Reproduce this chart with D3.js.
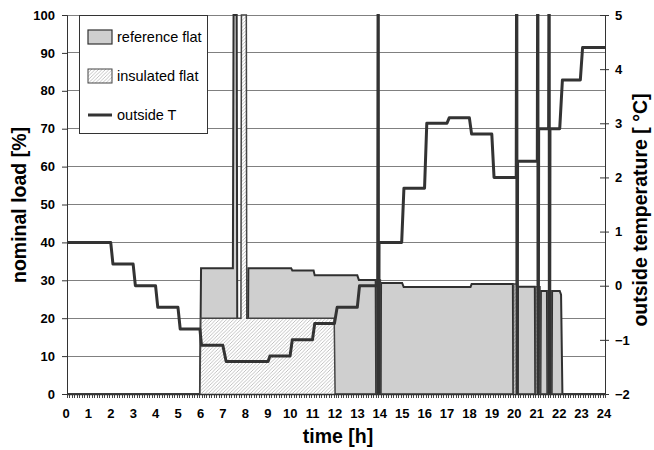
<!DOCTYPE html>
<html>
<head>
<meta charset="utf-8">
<script src="https://cdn.jsdelivr.net/npm/d3@7"></script>
<style>
  html, body { margin: 0; padding: 0; background: #fff; }
  svg { display: block; font-family: "Liberation Sans", Arial, Helvetica, sans-serif; }
</style>
</head>
<body>
<svg id="chart" width="654" height="450"></svg>
<script>
// ---- data -------------------------------------------------------------
const hourLabels = ["0","1","2","3","4","5","6","7","8","9","10","11","12",
                    "13","14","15","16","17","18","19","20","21","22","23","24"];
const loadTicks = [0, 10, 20, 30, 40, 50, 60, 70, 80, 90, 100];
const tempTicks = [-2, -1, 0, 1, 2, 3, 4, 5];
const seriesNames = ["reference flat", "insulated flat", "outside T"];

// nominal load of the reference flat, [hour, %]
const referenceFlat = [
  [0, 0], [5.93, 0], [5.98, 33.2], [7.40, 33.2], [7.43, 100], [7.57, 100], [7.60, 0],
  [8.06, 0], [8.09, 33.2], [10.0, 33.2], [10.05, 32.6], [11.0, 32.6], [11.05, 31.3],
  [12.95, 31.3], [13.02, 30.1], [13.77, 30.1], [13.79, 0], [13.99, 0], [14.01, 29.3],
  [14.95, 29.3], [15.02, 28.2], [18.0, 28.2], [18.05, 29.0], [19.89, 29.0],
  [19.91, 0], [20.10, 0], [20.12, 28.3], [20.87, 28.3], [20.89, 0], [21.12, 0],
  [21.14, 27.2], [21.41, 27.2], [21.43, 0], [21.62, 0], [21.64, 27.2],
  [21.98, 27.2], [22.04, 26.2], [22.10, 0], [24, 0]
];

// nominal load of the insulated flat, [hour, %]
const insulatedFlat = [
  [0, 0], [5.93, 0], [5.97, 20], [7.76, 20], [7.78, 100], [8.0, 100], [8.02, 20],
  [11.92, 20], [11.96, 0], [13.80, 0], [13.81, 30.1], [13.98, 30.1], [13.99, 0],
  [19.92, 0], [19.93, 29.0], [20.09, 29.0], [20.10, 0],
  [20.90, 0], [20.91, 28.3], [21.10, 28.3], [21.11, 0],
  [21.44, 0], [21.45, 27.2], [21.60, 27.2], [21.61, 0], [24, 0]
];

// outside temperature, [hour, °C]; readings beyond the axis range are sensor dropouts
const outsideT = [
  [0, 0.8], [1.95, 0.8], [2.05, 0.4], [2.95, 0.4], [3.05, 0.0], [3.95, 0.0],
  [4.05, -0.4], [4.95, -0.4], [5.05, -0.8], [5.93, -0.8], [6.0, -1.1], [6.95, -1.1],
  [7.1, -1.4], [8.97, -1.4], [9.05, -1.3], [9.95, -1.3], [10.05, -1.0], [10.95, -1.0],
  [11.05, -0.7], [11.93, -0.7], [12.05, -0.4], [12.95, -0.4], [13.05, 0.0],
  [13.86, 0.0], [13.885, 8], [13.895, -5], [13.92, 0.8], [14.93, 0.8], [15.03, 1.8],
  [15.95, 1.8], [16.05, 3.0], [16.95, 3.0], [17.05, 3.1], [17.95, 3.1], [18.05, 2.8],
  [18.95, 2.8], [19.05, 2.0], [20.04, 2.0], [20.065, 8], [20.075, -5], [20.1, 2.3],
  [20.98, 2.3], [21.005, 8], [21.015, -5], [21.04, 2.9], [21.485, 2.9], [21.51, 8],
  [21.52, -5], [21.545, 2.9], [21.98, 2.9], [22.1, 3.8], [22.9, 3.8], [23.0, 4.4], [24, 4.4]
];

// ---- layout -----------------------------------------------------------
const svg = d3.select("#chart");
const plotL = 67, plotR = 605, plotT = 15, plotB = 394;

const x = d3.scaleLinear().domain([0, 24]).range([plotL, plotR]);
const yLoad = d3.scaleLinear().domain([0, 100]).range([plotB, plotT]);
const yTemp = d3.scaleLinear().domain([-2, 5]).range([plotB, plotT]);

const defs = svg.append("defs");
defs.append("clipPath").attr("id", "plotClip")
  .append("rect").attr("x", plotL).attr("y", plotT - 1)
  .attr("width", plotR - plotL).attr("height", plotB - plotT + 1);

const hatch = defs.append("pattern").attr("id", "hatch")
  .attr("patternUnits", "userSpaceOnUse").attr("width", 3.5).attr("height", 3.5);
hatch.append("rect").attr("width", 3.5).attr("height", 3.5).attr("fill", "#fff");
hatch.append("path").attr("d", "M-1,1 L1,-1 M0,3.5 L3.5,0 M2.5,4.5 L4.5,2.5")
  .attr("stroke", "#a8a8a8").attr("stroke-width", 0.7);

// horizontal grid lines on the load scale
svg.append("g").selectAll("line").data(loadTicks.filter(d => d > 0)).join("line")
  .attr("x1", plotL).attr("x2", plotR)
  .attr("y1", d => yLoad(d)).attr("y2", d => yLoad(d))
  .attr("stroke", "#808080").attr("stroke-width", 1).attr("shape-rendering", "crispEdges");

const plot = svg.append("g").attr("clip-path", "url(#plotClip)");

const loadArea = d3.area().x(d => x(d[0])).y0(yLoad(0)).y1(d => yLoad(d[1]));
const loadLine = d3.line().x(d => x(d[0])).y(d => yLoad(d[1]));

plot.append("path").datum(referenceFlat)
  .attr("d", loadArea).attr("fill", "#cfcfcf");
plot.append("path").datum(referenceFlat)
  .attr("d", loadLine).attr("fill", "none").attr("stroke", "#303030").attr("stroke-width", 2);

plot.append("path").datum(insulatedFlat)
  .attr("d", loadArea).attr("fill", "url(#hatch)");
plot.append("path").datum(insulatedFlat)
  .attr("d", loadLine).attr("fill", "none").attr("stroke", "#444").attr("stroke-width", 1.5);

const tempLine = d3.line().x(d => x(d[0])).y(d => yTemp(d[1]));
plot.append("path").datum(outsideT)
  .attr("d", tempLine).attr("fill", "none")
  .attr("stroke", "#333").attr("stroke-width", 3).attr("stroke-linejoin", "round");

// ---- axes -------------------------------------------------------------
const tickFont = g => g.selectAll("text")
  .attr("font-size", 13).attr("font-weight", "bold").attr("fill", "#000")
  .attr("font-family", "'Liberation Sans', Arial, sans-serif");

const axL = svg.append("g").attr("transform", `translate(${plotL},0)`)
  .call(d3.axisLeft(yLoad).tickValues(loadTicks).tickSize(5).tickPadding(7));
axL.call(tickFont);
axL.select(".domain").attr("stroke", "#333");
axL.selectAll(".tick line").attr("stroke", "#333");

const axR = svg.append("g").attr("transform", `translate(${plotR},0)`)
  .call(d3.axisRight(yTemp).tickValues(tempTicks).tickSize(4).tickPadding(6)
        .tickFormat(d3.format("d")));
axR.call(tickFont);
axR.select(".domain").attr("stroke", "#333");
axR.selectAll(".tick line").attr("stroke", "#333").attr("x1", -5);

// bottom axis: dense minor ticks plus hour labels
const minorTicks = d3.range(0, 24 * 9 + 1).map(i => i / 9);
const axB = svg.append("g");
axB.selectAll("line.minor").data(minorTicks).join("line").attr("class", "minor")
  .attr("x1", d => Math.round(x(d)) + 0.5).attr("x2", d => Math.round(x(d)) + 0.5)
  .attr("y1", plotB).attr("y2", plotB + 4)
  .attr("stroke", "#444").attr("stroke-width", 1);
axB.append("line").attr("x1", plotL).attr("x2", plotR)
  .attr("y1", plotB + 0.5).attr("y2", plotB + 0.5)
  .attr("stroke", "#333").attr("stroke-width", 1.5);
axB.selectAll("text").data(hourLabels).join("text")
  .attr("x", (d, i) => x(i) - 1).attr("y", 418)
  .attr("text-anchor", "middle")
  .attr("font-size", 13).attr("font-weight", "bold").text(d => d);

// axis titles
svg.append("text").attr("x", 338).attr("y", 443).attr("text-anchor", "middle")
  .attr("font-size", 19.5).attr("font-weight", "bold").text("time [h]");
svg.append("text").attr("transform", "translate(26,205) rotate(-90)")
  .attr("text-anchor", "middle").attr("font-size", 19.5).attr("font-weight", "bold")
  .text("nominal load [%]");
svg.append("text").attr("transform", "translate(647,210) rotate(-90)")
  .attr("text-anchor", "middle").attr("font-size", 19.5).attr("font-weight", "bold")
  .text("outside temperature [ °C]");

// ---- legend -----------------------------------------------------------
const lg = svg.append("g");
lg.append("rect").attr("x", 79.5).attr("y", 15.5).attr("width", 128).attr("height", 118)
  .attr("fill", "#fff").attr("stroke", "#333").attr("stroke-width", 1);
const rows = [37, 76, 115];
lg.append("rect").attr("x", 88).attr("y", rows[0] - 7).attr("width", 24).attr("height", 14)
  .attr("fill", "#cfcfcf").attr("stroke", "#333").attr("stroke-width", 1.2);
lg.append("rect").attr("x", 88).attr("y", rows[1] - 7).attr("width", 24).attr("height", 14)
  .attr("fill", "url(#hatch)").attr("stroke", "#444").attr("stroke-width", 1);
lg.append("line").attr("x1", 88).attr("x2", 112).attr("y1", rows[2]).attr("y2", rows[2])
  .attr("stroke", "#333").attr("stroke-width", 3);
lg.selectAll("text.lbl").data(seriesNames).join("text").attr("class", "lbl")
  .attr("x", 117).attr("y", (d, i) => rows[i] + 5)
  .attr("font-size", 14.5).text(d => d);
</script>
</body>
</html>
